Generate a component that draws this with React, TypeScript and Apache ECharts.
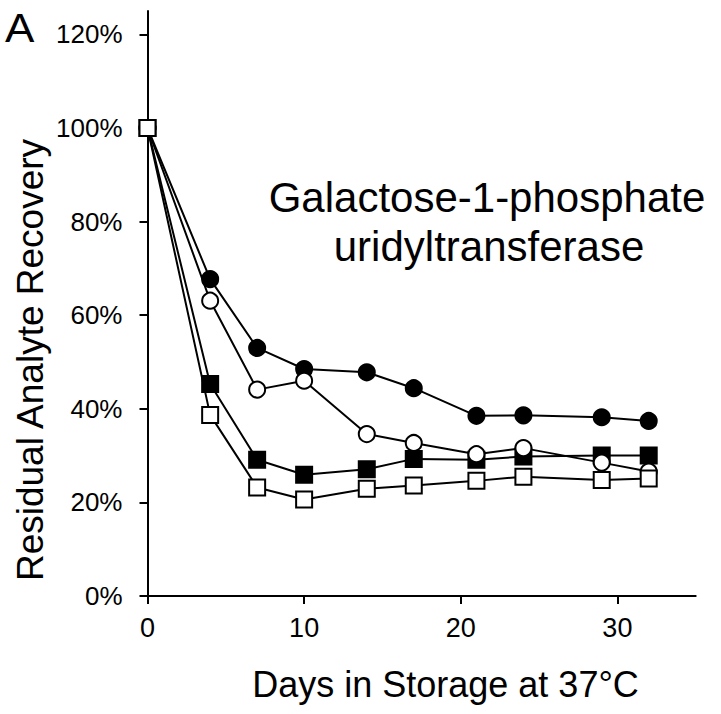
import React, { useEffect, useRef } from "react";
import * as echarts from "echarts";

const days = [0, 4, 7, 10, 14, 17, 21, 24, 29, 32];
const filledCircle = [100, 67.7, 53.0, 48.5, 47.8, 44.4, 38.5, 38.6, 38.2, 37.4];
const openCircle = [100, 63.1, 44.1, 46.0, 34.6, 32.7, 30.3, 31.6, 28.5, 26.6];
const filledSquare = [100, 45.3, 29.1, 25.9, 27.1, 29.3, 29.1, 29.8, 30.0, 30.0];
const openSquare = [100, 38.7, 23.2, 20.6, 22.9, 23.6, 24.6, 25.5, 24.8, 25.1];
const xTicks = [0, 10, 20, 30];
const yTicks = [0, 20, 40, 60, 80, 100, 120];

const FONT = "'Liberation Sans', Arial, Helvetica, sans-serif";

function mk(name: string, values: number[], symbol: string, filled: boolean, z: number) {
  return {
    name,
    type: "line",
    data: days.map((d, i) => [d, values[i]]),
    symbol,
    symbolSize: 16,
    z,
    lineStyle: { color: "#000", width: 2 },
    itemStyle: {
      color: filled ? "#000" : "#fff",
      borderColor: "#000",
      borderWidth: 2,
      opacity: 1,
    },
    emphasis: { disabled: true },
  };
}

export default function App() {
  const ref = useRef<HTMLDivElement>(null);
  useEffect(() => {
    if (!ref.current) return;
    const chart = echarts.init(ref.current, undefined, { renderer: "svg" });
    chart.setOption({
      animation: false,
      backgroundColor: "#fff",
      grid: { left: 147.5, right: 25.3, top: 11, bottom: 118, containLabel: false },
      xAxis: {
        type: "value",
        min: 0,
        max: 35,
        interval: 5,
        splitLine: { show: false },
        axisLine: { show: true, onZero: false, lineStyle: { color: "#000", width: 2 } },
        axisTick: { show: true, length: 8, lineStyle: { color: "#000", width: 2 }, customValues: xTicks },
        axisLabel: {
          color: "#000",
          fontSize: 27,
          fontFamily: FONT,
          margin: 18,
          customValues: xTicks,
        },
      },
      yAxis: {
        type: "value",
        min: 0,
        max: 125,
        interval: 5,
        splitLine: { show: false },
        axisLine: { show: true, lineStyle: { color: "#000", width: 2 } },
        axisTick: { show: true, length: 8, lineStyle: { color: "#000", width: 2 }, customValues: yTicks },
        axisLabel: {
          color: "#000",
          fontSize: 26,
          fontFamily: FONT,
          margin: 25,
          formatter: "{value}%",
          customValues: yTicks,
        },
      },
      series: [
        mk("filledCircle", filledCircle, "circle", true, 2),
        mk("filledSquare", filledSquare, "rect", true, 3),
        mk("openCircle", openCircle, "circle", false, 4),
        mk("openSquare", openSquare, "rect", false, 5),
      ],
      graphic: [
        {
          type: "text",
          x: 5,
          y: 28,
          scaleX: 1.1,
          style: {
            text: "A",
            fontSize: 40,
            fontFamily: FONT,
            fill: "#000",
            align: "left",
            verticalAlign: "middle",
          },
        },
        {
          type: "text",
          x: 30.5,
          y: 360,
          rotation: Math.PI / 2,
          style: {
            text: "Residual Analyte Recovery",
            fontSize: 37,
            fontFamily: FONT,
            fill: "#000",
            align: "center",
            verticalAlign: "middle",
          },
        },
        {
          type: "text",
          x: 445.5,
          y: 684.8,
          style: {
            text: "Days in Storage at 37°C",
            fontSize: 36,
            fontFamily: FONT,
            fill: "#000",
            align: "center",
            verticalAlign: "middle",
          },
        },
        {
          type: "text",
          x: 487,
          y: 197.5,
          style: {
            text: "Galactose-1-phosphate",
            fontSize: 42,
            fontFamily: FONT,
            fill: "#000",
            align: "center",
            verticalAlign: "middle",
          },
        },
        {
          type: "text",
          x: 489,
          y: 246.5,
          style: {
            text: "uridyltransferase",
            fontSize: 42,
            fontFamily: FONT,
            fill: "#000",
            align: "center",
            verticalAlign: "middle",
          },
        },
      ],
    });
    return () => chart.dispose();
  }, []);
  return (
    <div
      ref={ref}
      style={{ position: "absolute", left: 0, top: 0, width: 721, height: 714 }}
    />
  );
}
